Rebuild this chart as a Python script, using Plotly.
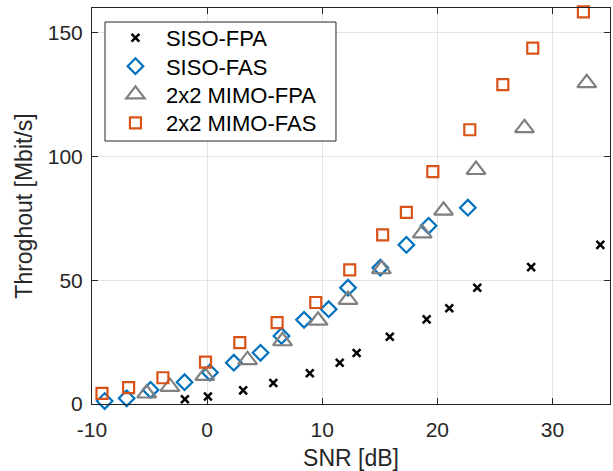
import plotly.graph_objects as go

# SNR [dB] and throughput [Mbit/s] for each scheme
snr_siso_fpa = [-1.93, 0.07, 3.13, 5.75, 8.92, 11.52, 12.99, 15.87, 19.07, 21.04, 23.47, 28.15, 34.16]
thr_siso_fpa = [1.9, 3.0, 5.5, 8.5, 12.4, 16.7, 20.6, 27.2, 34.2, 38.7, 47.0, 55.3, 64.3]

snr_siso_fas = [-8.90, -6.99, -4.91, -1.96, 0.24, 2.32, 4.64, 6.46, 8.42, 10.56, 12.24, 15.05, 17.31, 19.24, 22.65]
thr_siso_fas = [1.2, 2.3, 5.7, 8.8, 12.7, 16.7, 20.7, 27.5, 34.0, 38.3, 47.0, 55.1, 64.3, 72.0, 79.3]

snr_mimo_fpa = [-5.25, -3.23, -0.20, 3.51, 6.55, 9.64, 12.24, 15.14, 18.69, 20.54, 23.36, 27.57, 32.98]
thr_mimo_fpa = [4.3, 7.0, 11.4, 17.8, 25.4, 33.7, 42.1, 54.5, 69.0, 78.2, 94.6, 111.5, 129.7]

snr_mimo_fas = [-9.13, -6.82, -3.84, -0.14, 2.84, 6.08, 9.44, 12.39, 15.25, 17.31, 19.61, 22.82, 25.69, 28.29, 32.69]
thr_mimo_fas = [4.3, 6.6, 10.6, 16.9, 24.8, 32.9, 41.0, 54.2, 68.3, 77.4, 93.9, 110.8, 129.0, 143.8, 158.4]

x_ticks = [-10, 0, 10, 20, 30]
y_ticks = [0, 50, 100, 150]

FONT = "Liberation Sans, Arial, Helvetica, sans-serif"
AX = "#262626"

series = [
    ("SISO-FPA", snr_siso_fpa, thr_siso_fpa,
     dict(symbol="x-thin", size=7.8, color="black", line=dict(width=2.5, color="black"))),
    ("SISO-FAS", snr_siso_fas, thr_siso_fas,
     dict(symbol="diamond-open", size=12, color="#0072BD", line=dict(width=2.2, color="#0072BD"))),
    ("2x2 MIMO-FPA", snr_mimo_fpa, thr_mimo_fpa,
     dict(symbol="triangle-up-open", size=16.5, color="#808080", line=dict(width=2.2, color="#808080"))),
    ("2x2 MIMO-FAS", snr_mimo_fas, thr_mimo_fas,
     dict(symbol="square-open", size=11, color="#D95319", line=dict(width=2.2, color="#D95319"))),
]

fig = go.Figure()

# one single-entry legend per series so the rows sit at fixed positions in the frame
legend_ids = ["legend", "legend2", "legend3", "legend4"]
row_y = [0.9242, 0.8527, 0.7813, 0.7095]

for (name, xs, ys, mk), lid in zip(series, legend_ids):
    fig.add_trace(go.Scatter(x=xs, y=ys, mode="markers", name=name,
                             marker=mk, cliponaxis=False, legend=lid))

axis_common = dict(
    showline=True, linecolor=AX, linewidth=1, mirror="ticks",
    ticks="inside", ticklen=6, tickcolor=AX, tickwidth=1,
    showgrid=True, gridcolor="#e3e3e3", gridwidth=1,
    zeroline=False, tickfont=dict(family=FONT, size=21, color=AX),
)

fig.update_xaxes(range=[-10, 35], tickvals=x_ticks,
                 ticktext=[str(v) for v in x_ticks],
                 ticklabelstandoff=7,
                 title=dict(text="SNR [dB]", font=dict(family=FONT, size=23, color=AX),
                            standoff=10),
                 **axis_common)
fig.update_yaxes(range=[0, 160], tickvals=y_ticks,
                 ticklabelstandoff=4,
                 title=dict(text="Throghout [Mbit/s]", font=dict(family=FONT, size=23, color=AX),
                            standoff=8),
                 **axis_common)

# legend frame
fig.add_shape(type="rect", xref="paper", yref="paper",
              x0=0.0251, x1=0.471, y0=0.6641, y1=0.9646,
              line=dict(color=AX, width=1), fillcolor="white", layer="above")

layout_legends = {}
for lid, yy in zip(legend_ids, row_y):
    layout_legends[lid] = dict(
        x=0.025, y=yy, xanchor="left", yanchor="middle",
        bgcolor="rgba(0,0,0,0)", borderwidth=0,
        font=dict(family=FONT, size=22, color="black"),
        itemwidth=51, tracegroupgap=0,
    )

fig.update_layout(
    width=613, height=471,
    margin=dict(l=92, r=3, t=8, b=67),
    paper_bgcolor="white", plot_bgcolor="white",
    font=dict(family=FONT, color="black"),
    showlegend=True,
    **layout_legends,
)

fig.write_html("out.html")
